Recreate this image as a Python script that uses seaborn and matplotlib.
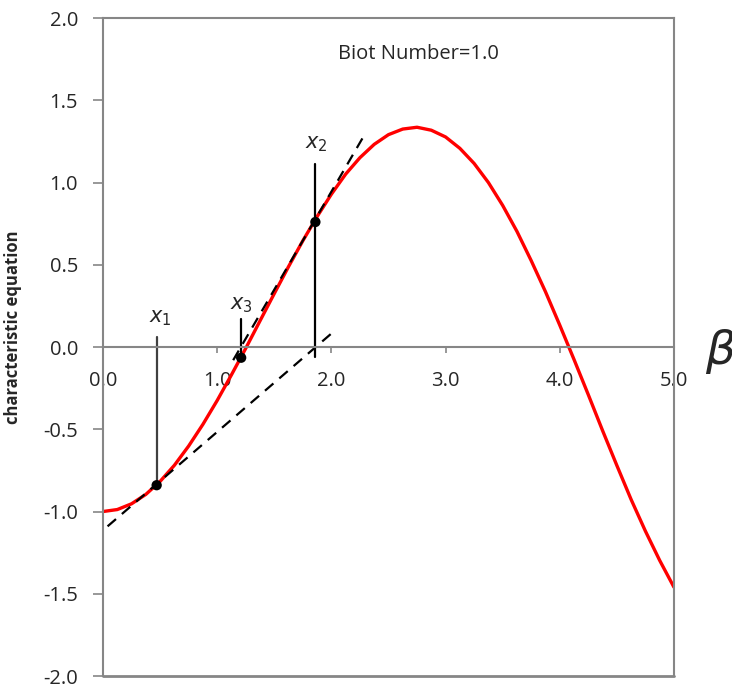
import numpy as np
import pandas as pd
import seaborn as sns
import matplotlib.pyplot as plt

# curve (Biot number = 1.0)
beta = [0.0, 0.125, 0.25, 0.375, 0.5, 0.625, 0.75, 0.875, 1.0, 1.125, 1.25, 1.375,
        1.5, 1.625, 1.75, 1.875, 2.0, 2.125, 2.25, 2.375, 2.5, 2.625, 2.75, 2.875,
        3.0, 3.125, 3.25, 3.375, 3.5, 3.625, 3.75, 3.875, 4.0, 4.125, 4.25, 4.375,
        4.5, 4.625, 4.75, 4.875, 5.0]
char_eq = [-1.0, -0.988, -0.953, -0.896, -0.817, -0.719, -0.602, -0.470, -0.325,
           -0.169, -0.008, 0.159, 0.325, 0.489, 0.646, 0.793, 0.929, 1.051, 1.151,
           1.232, 1.291, 1.325, 1.336, 1.318, 1.277, 1.208, 1.116, 1.000, 0.861,
           0.703, 0.525, 0.336, 0.133, -0.076, -0.290, -0.508, -0.720, -0.927,
           -1.119, -1.297, -1.460]

# Newton iterates and their tangent lines
iter_x = [0.47, 1.86, 1.21]
iter_y = [-0.84, 0.76, -0.065]
iter_labels = ["1", "2", "3"]
stem_top = [0.06, 1.11, 0.17]
stem_bottom = [-0.84, -0.06, -0.065]
tan1_x = [0.04, 2.03]
tan1_y = [-1.09, 0.10]
tan2_x = [1.14, 2.29]
tan2_y = [-0.08, 1.29]

xticks = [0.0, 1.0, 2.0, 3.0, 4.0, 5.0]
yticks = [-2.0, -1.5, -1.0, -0.5, 0.0, 0.5, 1.0, 1.5, 2.0]

sns.set_style("white")
plt.rcParams["font.family"] = ["Open Sans", "DejaVu Sans"]
grey = "#868686"

fig = plt.figure(figsize=(7.32, 6.88), dpi=100)
ax = fig.add_axes([0.1407, 0.0174, 0.78, 0.9564])

df = pd.DataFrame({"beta": beta, "f": char_eq})
sns.lineplot(data=df, x="beta", y="f", color="red", linewidth=2.4, ax=ax, sort=False)

for tx, ty in [(tan1_x, tan1_y), (tan2_x, tan2_y)]:
    sns.lineplot(x=tx, y=ty, color="black", linewidth=1.6, linestyle=(0, (5, 3.5)), ax=ax)

for i in range(3):
    c = "#404040" if i == 0 else "black"
    ax.plot([iter_x[i], iter_x[i]], [stem_bottom[i], stem_top[i]], color=c, linewidth=1.6)
sns.scatterplot(x=iter_x, y=iter_y, color="black", s=55, zorder=5, ax=ax, edgecolor="none")

label_pos = [(0.50, 0.18), (1.87, 1.24), (1.21, 0.26)]
for (lx, ly), lab in zip(label_pos, iter_labels):
    ax.text(lx, ly, r"$\mathit{x_{" + lab + "}}$", fontsize=15, ha="center", va="center")

ax.set_xlim(0, 5)
ax.set_ylim(-2, 2)
ax.set_xticks(xticks)
ax.set_xticklabels([f"{v:.1f}" for v in xticks])
ax.set_yticks(yticks)
ax.set_yticklabels([f"{v:.1f}" for v in yticks])

for s in ["left", "right", "top", "bottom"]:
    ax.spines[s].set_color(grey)
    ax.spines[s].set_linewidth(1.5)
ax.spines["bottom"].set_position(("data", 0))
ax.axhline(-2, color=grey, linewidth=2, clip_on=False)

ax.tick_params(axis="y", direction="out", length=7, width=1.2, color=grey, pad=11,
               labelsize=14.5, left=True)
ax.tick_params(axis="x", direction="out", length=4, width=1.2, color=grey, pad=13,
               labelsize=14.5, bottom=True)

ax.set_xlabel("")
ax.set_ylabel("characteristic equation", fontsize=12, fontweight="bold")
ax.yaxis.set_label_coords(-0.142, 0.53)
ax.text(0.553, 0.9456, "Biot Number=1.0", transform=ax.transAxes, fontsize=14.5,
        ha="center", va="center")
fig.text(705 / 732, 1 - 352 / 688, r"$\beta$", fontsize=34, ha="left", va="center")

fig.savefig("out.png", dpi=100)
